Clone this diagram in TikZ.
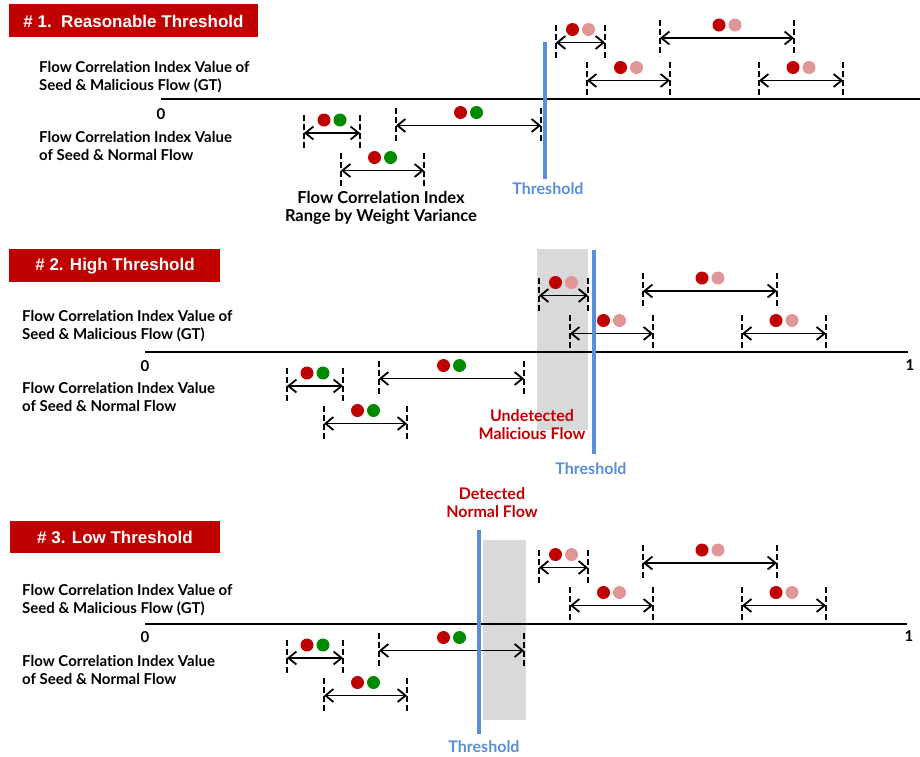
\documentclass[tikz,border=0pt]{standalone}
\usepackage{fontspec}
\setmainfont{Liberation Sans}
\newfontfamily\labfont{Lato}[Ligatures={NoCommon}]
\usetikzlibrary{arrows.meta}
\definecolor{dred}{RGB}{192,0,0}
\definecolor{dpink}{RGB}{222,150,150}
\definecolor{dgreen}{RGB}{0,138,0}
\definecolor{tblue}{RGB}{91,142,214}
\definecolor{lgray}{RGB}{217,217,217}
\tikzset{
  vdash/.style={line width=1.8pt,dash pattern=on 6pt off 3pt},
  dimarr/.style={line width=1.8pt,{Straight Barb[length=8pt,width=13pt]}-{Straight Barb[length=8pt,width=13pt]}},
  dot/.style={circle,inner sep=0pt,minimum size=13pt,draw=none},
  lab/.style={font=\labfont\bfseries\fontsize{15}{18}\selectfont,align=left,inner sep=0pt},
  axisline/.style={line width=1.8pt},
  thr/.style={line width=4pt,draw=tblue},
  thrtext/.style={font=\labfont\bfseries\fontsize{16}{18}\selectfont,text=tblue,inner sep=0pt},
  redtext/.style={font=\labfont\bfseries\fontsize{16}{18}\selectfont,text=dred,align=center,inner sep=0pt},
  titlebox/.style={fill=dred,draw=none},
  titletext/.style={font=\bfseries\fontsize{17}{20}\selectfont,text=white,inner sep=0pt},
  shade/.style={fill=lgray,draw=none}
}
\newcommand\ivl[6]{%
  \pgfmathsetmacro\ym{(#4+#5)/2}%
  \pgfmathsetmacro\xc{(#2+#3)/2}%
  \coordinate (#1-lt) at (#2,#4); \coordinate (#1-lb) at (#2,#5);
  \coordinate (#1-rt) at (#3,#4); \coordinate (#1-rb) at (#3,#5);
  \coordinate (#1-l) at (#2,\ym); \coordinate (#1-r) at (#3,\ym);
  \draw[vdash] (#1-lt) -- (#1-lb);
  \draw[vdash] (#1-rt) -- (#1-rb);
  \draw[dimarr] (#1-l) -- (#1-r);
  \node[dot,fill=dred] (#1-a) at (\xc-8,\ym-13) {};
  \node[dot,fill=#6] (#1-b) at (\xc+8,\ym-13) {};
}
\newcommand\flowpanel[1]{%
  \ivl{#1A}{287}{343}{368}{404}{dgreen}
  \ivl{#1B}{324}{407}{406}{441}{dgreen}
  \ivl{#1C}{379}{524}{361}{396}{dgreen}
  \ivl{#1M1}{539}{588}{278}{313}{dpink}
  \ivl{#1M2}{570}{653}{315}{352}{dpink}
  \ivl{#1M3}{643}{777}{273}{309}{dpink}
  \ivl{#1M4}{742}{826}{315}{352}{dpink}
}
\newcommand\gttext{Flow Correlation Index Value of\\Seed \& Malicious Flow (GT)}
\newcommand\nftext{Flow Correlation Index Value\\of Seed \& Normal Flow}
\begin{document}
\begin{tikzpicture}[x=1pt,y=-1pt]
\useasboundingbox (0,0) rectangle (920,756);
% ---------- Panel 1 ----------
\fill[titlebox] (9,4) rectangle (258,37);
\node[titletext] (t1) at (133.5,21) {\# 1.\ \ Reasonable Threshold};
\coordinate (ax1s) at (161,99); \coordinate (ax1e) at (920,99);
\draw[axisline] (ax1s) -- (ax1e);
\begin{scope}[shift={(17,-253)}]
  \flowpanel{p1}
\end{scope}
\node[lab,anchor=west] (p1gt) at (39,77) {\gttext};
\node[lab,anchor=west] (p1nf) at (39,146) {\nftext};
\node[lab] (p1zero) at (161,114) {0};
\node[lab,align=center,font=\labfont\bfseries\fontsize{16.5}{18}\selectfont] (range) at (381,208) {Flow Correlation Index\\Range by Weight Variance};
\coordinate (th1t) at (545,42); \coordinate (th1b) at (545,179);
\draw[thr] (th1t) -- (th1b);
\node[thrtext] (th1) at (548,189) {Threshold};
% ---------- Panel 2 ----------
\fill[titlebox] (9,249) rectangle (220,282);
\node[titletext] (t2) at (115,266) {\# 2. High Threshold};
\fill[shade] (537,249) rectangle (588,430);
\coordinate (ax2s) at (145,352); \coordinate (ax2e) at (908,352);
\draw[axisline] (ax2s) -- (ax2e);
\node[lab] (one2) at (910,365) {1};
\flowpanel{p2}
\node[lab,anchor=west] (p2gt) at (22,326.5) {\gttext};
\node[lab,anchor=west] (p2nf) at (22,397) {\nftext};
\node[lab] (p2zero) at (145,366) {0};
\node[redtext] (und) at (532,425) {Undetected\\Malicious Flow};
\coordinate (th2t) at (594,250); \coordinate (th2b) at (594,454);
\draw[thr] (th2t) -- (th2b);
\node[thrtext] (th2) at (591,469) {Threshold};
% ---------- Panel 3 ----------
\fill[titlebox] (10,521) rectangle (220,553);
\node[titletext] (t3) at (115,537) {\# 3. Low Threshold};
\fill[shade] (483,540) rectangle (526,720);
\coordinate (ax3s) at (145,624); \coordinate (ax3e) at (907,624);
\draw[axisline] (ax3s) -- (ax3e);
\node[lab] (one3) at (909,636) {1};
\begin{scope}[shift={(0,272)}]
  \flowpanel{p3}
\end{scope}
\node[lab,anchor=west] (p3gt) at (22,600) {\gttext};
\node[lab,anchor=west] (p3nf) at (22,670) {\nftext};
\node[lab] (p3zero) at (145,637) {0};
\node[redtext] (det) at (492,502.5) {Detected\\Normal Flow};
\coordinate (th3t) at (479,530); \coordinate (th3b) at (479,734);
\draw[thr] (th3t) -- (th3b);
\node[thrtext] (th3) at (484,747) {Threshold};
\end{tikzpicture}
\end{document}
